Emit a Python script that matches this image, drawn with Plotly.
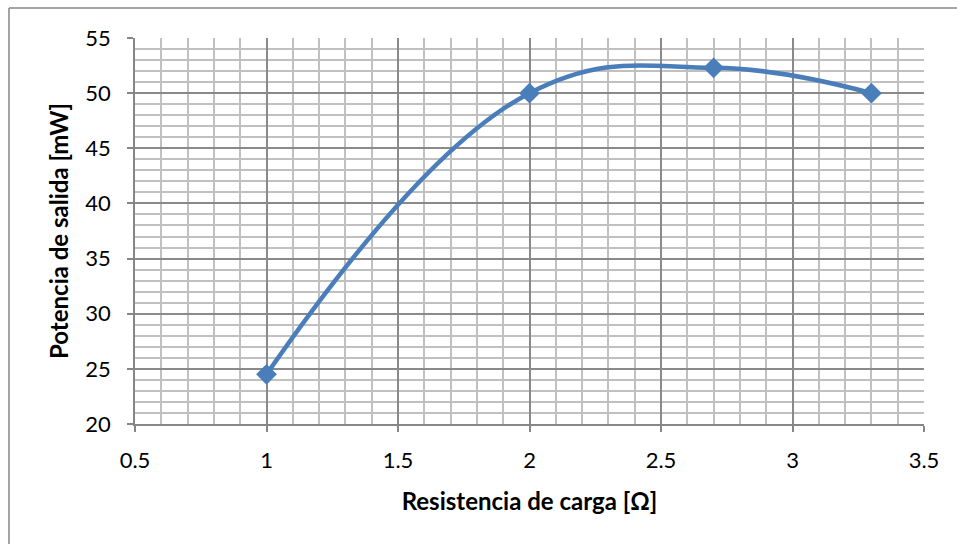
import plotly.graph_objects as go

resistencia = [1, 2, 2.7, 3.3]
potencia = [24.5, 50, 52.3, 50]
x_ticks = [0.5, 1, 1.5, 2, 2.5, 3, 3.5]
x_labels = ["0.5", "1", "1.5", "2", "2.5", "3", "3.5"]
y_ticks = [20, 25, 30, 35, 40, 45, 50, 55]

W, H = 957, 544
L, R, T, B = 135, 33, 38, 120
pw, ph = W - L - R, H - T - B

fig = go.Figure()
fig.add_trace(go.Scatter(
    x=resistencia, y=potencia, mode="lines+markers",
    line=dict(color="#4a7ebb", width=4.5, shape="spline", smoothing=1.2),
    marker=dict(symbol="diamond", size=16, color="#4a7ebb"),
    showlegend=False,
))

font = "Lato, 'Open Sans', sans-serif"
fig.update_layout(
    width=W, height=H,
    margin=dict(l=L, r=R, t=T, b=B),
    paper_bgcolor="white", plot_bgcolor="white",
    font=dict(family=font, size=22, color="black"),
    xaxis=dict(
        range=[0.5, 3.5], tickvals=x_ticks, ticktext=x_labels,
        showgrid=True, gridcolor="#8a8a8a", gridwidth=1.5,
        minor=dict(dtick=0.1, showgrid=True, gridcolor="#c0c0c0", gridwidth=1.5,
                   ticks=""),
        ticks="outside", ticklen=6, tickcolor="#868686", tickwidth=1.5,
        showline=True, linecolor="#868686", linewidth=1.5,
        zeroline=False, mirror=False,
        tickfont=dict(size=22), ticklabelstandoff=10,
        title=dict(text="<b>Resistencia de carga [Ω]</b>", font=dict(size=24), standoff=21),
    ),
    yaxis=dict(
        range=[20, 55], tickvals=y_ticks,
        showgrid=True, gridcolor="#8a8a8a", gridwidth=1.5,
        minor=dict(dtick=1, showgrid=True, gridcolor="#c0c0c0", gridwidth=1.5,
                   ticks=""),
        ticks="outside", ticklen=6, tickcolor="#868686", tickwidth=1.5,
        showline=True, linecolor="#868686", linewidth=1.5,
        zeroline=False,
        tickfont=dict(size=22), ticklabelstandoff=12,
        title=dict(text="<b>Potencia de salida [mW]</b>", font=dict(size=24), standoff=10),
    ),
    shapes=[
        dict(type="line", xref="paper", yref="paper",
             x0=(9 - L) / pw, x1=(W + 5 - L) / pw,
             y0=(H - B - 8) / ph, y1=(H - B - 8) / ph,
             line=dict(color="#868686", width=1.5)),
        dict(type="line", xref="paper", yref="paper",
             x0=(9 - L) / pw, x1=(9 - L) / pw,
             y0=(H - B - 8) / ph, y1=-(B + 5) / ph,
             line=dict(color="#868686", width=1.5)),
    ],
)

fig.write_html("out.html", config={"displayModeBar": False},
               post_script="document.body.style.margin='0';")
